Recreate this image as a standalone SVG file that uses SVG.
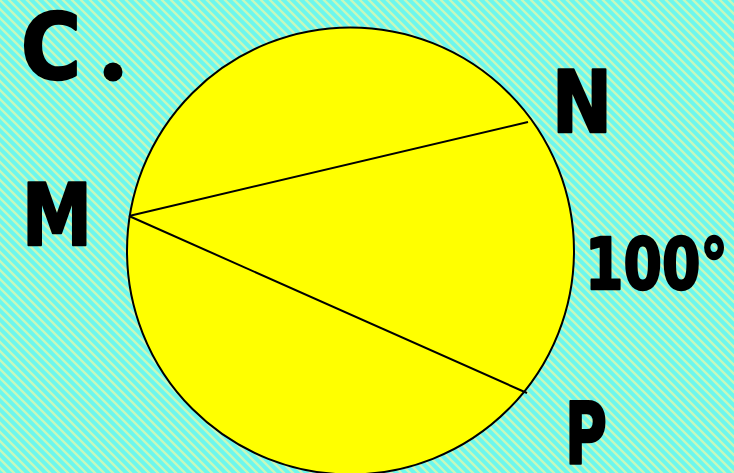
<svg xmlns="http://www.w3.org/2000/svg" width="734" height="473" viewBox="0 0 734 473">
<style>
.lbl{font-family:"DejaVu Sans","Liberation Sans",sans-serif;font-weight:bold;fill:#000;stroke:#000;stroke-width:2.5;stroke-linejoin:round}
.chord{stroke:#000;stroke-width:2;fill:none}
</style>
<defs>
<pattern id="bg" width="9" height="9" patternUnits="userSpaceOnUse">
<rect width="9" height="9" fill="#6CF7EE"/>
<path d="M-2,-2 L11,11 M-2,7 L2,11 M7,-2 L11,2" stroke="#C6F8BC" stroke-width="2.4"/>
</pattern>
</defs>
<rect width="734" height="473" fill="url(#bg)"/>
<g id="circle">
<circle cx="350.5" cy="251" r="223.5" fill="#FFFF00" stroke="#000" stroke-width="2"/>
</g>
<g id="connectors">
<line class="chord" x1="129" y1="216" x2="528" y2="122"/>
<line class="chord" x1="129" y1="216" x2="527" y2="393"/>
</g>
<g id="labels">
<text class="lbl" x="21" y="79" font-size="90" textLength="60" lengthAdjust="spacingAndGlyphs">C</text>
<circle cx="113" cy="72" r="9.5" fill="#000"/>
<text class="lbl" x="22" y="245" font-size="86" textLength="70" lengthAdjust="spacingAndGlyphs">M</text>
<text class="lbl" x="552" y="132" font-size="86" textLength="60" lengthAdjust="spacingAndGlyphs">N</text>
<text class="lbl" x="585" y="289" font-size="71" textLength="143" lengthAdjust="spacingAndGlyphs">100°</text>
<text class="lbl" x="565" y="464" font-size="86" textLength="42" lengthAdjust="spacingAndGlyphs">P</text>
</g>
</svg>
